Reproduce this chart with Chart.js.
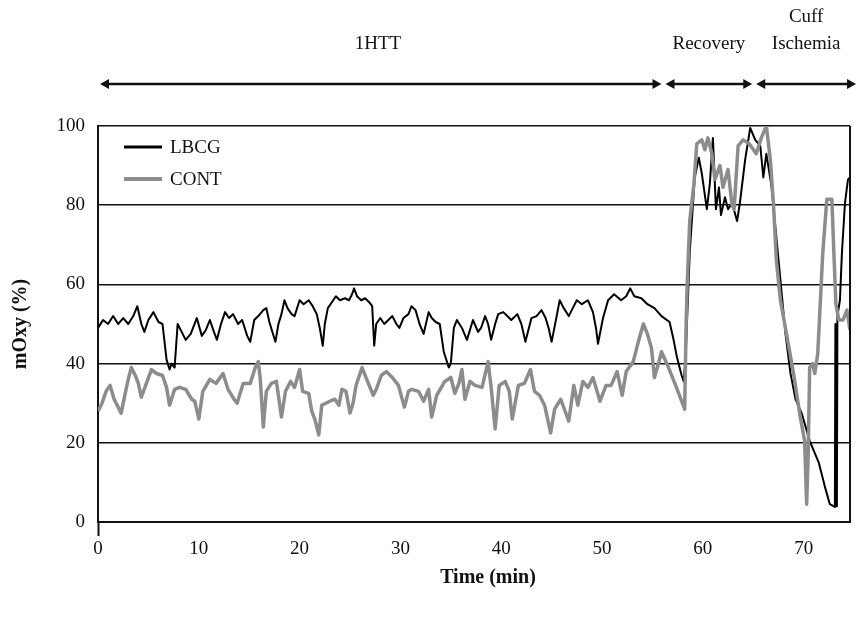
<!DOCTYPE html>
<html>
<head>
<meta charset="utf-8">
<title>mOxy</title>
<script src="https://cdn.jsdelivr.net/npm/chart.js@4.4.1/dist/chart.umd.min.js"></script>
<style>
  html, body { margin: 0; padding: 0; background: #fff; }
  canvas { display: block; }
</style>
</head>
<body>
<canvas id="oxyChart" width="857" height="619"></canvas>
<script>
// Time (min) / mOxy (%)
const lbcgTime = [
  0, 0.5, 1.0, 1.5, 2.0, 2.5, 3.0, 3.5, 3.9, 4.3, 4.6, 5.0, 5.5, 6.0, 6.4, 6.8, 7.1, 7.3, 7.6, 7.9,
  8.3, 8.7, 9.2, 9.8, 10.3, 10.7, 11.1, 11.5, 11.8, 12.2, 12.6, 13.0, 13.4, 13.9, 14.3, 14.8, 15.1, 15.5, 15.9, 16.4,
  16.7, 17.0, 17.3, 17.6, 17.9, 18.2, 18.5, 18.8, 19.2, 19.5, 20.0, 20.4, 20.9, 21.3, 21.7, 22.0, 22.3, 22.5, 22.8, 23.2,
  23.6, 24.0, 24.5, 24.9, 25.2, 25.4, 25.7, 26.1, 26.5, 26.9, 27.2, 27.4, 27.6, 28.0, 28.4, 28.8, 29.2, 29.6, 29.9, 30.3,
  30.8, 31.1, 31.5, 31.9, 32.3, 32.8, 33.1, 33.5, 33.9, 34.3, 34.8, 35.0, 35.3, 35.6, 36.1, 36.6, 37.2, 37.7, 38.0, 38.4,
  38.7, 39.0, 39.4, 39.7, 40.2, 40.6, 41.0, 41.6, 42.0, 42.4, 43.0, 43.5, 44.0, 44.4, 44.7, 45.0, 45.5, 45.8, 46.2, 46.7,
  47.1, 47.5, 48.0, 48.6, 49.1, 49.4, 49.6, 50.1, 50.6, 51.2, 51.9, 52.4, 52.8, 53.2, 53.9, 54.5, 55.2, 55.9, 56.7, 57.1,
  57.4, 57.9, 58.1, 58.3, 58.7, 59.2, 59.6, 59.9, 60.4, 60.7, 61.0, 61.3, 61.6, 61.8, 62.2, 62.5, 62.9, 63.4, 63.7, 64.2,
  64.7, 65.2, 65.7, 66.0, 66.3, 66.8, 67.2, 67.7, 68.2, 68.7, 69.2, 69.8, 70.6, 71.5, 72.1, 72.6, 73.1, 73.15, 73.2, 73.25,
  73.3, 73.35, 73.6, 73.8, 74.1, 74.4, 74.6
];
const lbcgValues = [
  49, 51, 50, 52, 50, 51.5, 50, 52, 54.5, 50, 48, 51, 53, 50.5, 50, 41, 38.5, 40, 39, 50,
  48, 46, 47.5, 51.5, 47, 48.5, 51, 48, 46, 50, 53, 51.5, 52.5, 50, 51, 47, 45.5, 51, 52, 53.5,
  54, 50.5, 48, 45.5, 50, 52.5, 56, 54, 52.5, 52, 56, 55, 56, 54.5, 52.5, 49, 44.5, 50, 54, 55.5,
  57, 56, 56.5, 56, 57.5, 59, 57, 56, 56.5, 55.5, 54.5, 44.5, 50, 51.5, 50, 51, 52, 50, 49, 51.5,
  52.5, 54.5, 53.5, 50, 47.5, 53, 51.5, 50.5, 50, 43, 39, 40, 49, 51, 49, 46, 51, 48, 49, 52,
  50, 46, 50, 52.5, 53, 52, 51, 52.5, 50, 45.5, 51.5, 52, 53.5, 51.5, 49, 45.5, 52, 56, 54, 52,
  54, 56, 55, 56, 53, 49, 45, 51.5, 56, 57.5, 56, 57, 59, 57, 56.5, 55, 54, 52, 50.5, 46,
  42, 37, 35.5, 42, 68, 87, 92, 88, 79, 85.5, 97, 79, 84.5, 77.5, 82, 79, 80.5, 76, 81, 91.5,
  99.5, 96.5, 95, 87, 93, 85, 74.5, 61, 47.5, 37.5, 31, 27.5, 20.5, 15, 9, 4.5, 3.8, 50, 4, 50,
  4, 52, 56, 68, 80.5, 86.5, 87
];
const contTime = [
  0, 0.4, 0.8, 1.2, 1.6, 2.0, 2.3, 2.7, 3.0, 3.3, 3.7, 4.0, 4.3, 4.8, 5.3, 5.8, 6.4, 6.8, 7.1, 7.6,
  8.1, 8.7, 9.3, 9.6, 10.0, 10.4, 11.1, 11.7, 12.4, 12.9, 13.5, 13.8, 14.4, 15.1, 15.6, 15.9, 16.1, 16.4, 16.7, 17.2,
  17.7, 18.2, 18.6, 19.1, 19.5, 20.0, 20.3, 20.9, 21.2, 21.5, 21.9, 22.2, 22.6, 23.0, 23.5, 23.9, 24.2, 24.6, 25.0, 25.3,
  25.6, 26.2, 26.5, 26.9, 27.3, 27.6, 28.1, 28.6, 29.2, 29.8, 30.4, 30.8, 31.1, 31.8, 32.3, 32.8, 33.1, 33.6, 34.4, 35.0,
  35.4, 35.8, 36.1, 36.4, 36.9, 37.4, 38.1, 38.7, 39.0, 39.4, 39.8, 40.4, 40.8, 41.1, 41.7, 42.3, 42.9, 43.3, 43.8, 44.3,
  44.9, 45.3, 45.9, 46.7, 47.2, 47.6, 48.1, 48.6, 49.1, 49.8, 50.4, 50.9, 51.5, 52.0, 52.4, 53.1, 53.6, 54.1, 54.5, 54.9,
  55.2, 55.6, 55.9, 56.6, 57.3, 58.2, 58.35, 58.45, 58.7, 59.1, 59.4, 59.9, 60.2, 60.5, 60.9, 61.2, 61.7, 62.0, 62.5, 62.9,
  63.1, 63.5, 64.0, 64.6, 65.3, 65.8, 66.3, 66.7, 67.0, 67.3, 67.7, 68.3, 69.0, 69.6, 70.1, 70.3, 70.45, 70.6, 70.9, 71.1,
  71.4, 71.9, 72.3, 72.8, 73.0, 73.2, 73.5, 73.9, 74.3, 74.6
];
const contValues = [
  28, 30, 33, 34.5, 31, 29, 27.5, 32.5, 36, 39, 37, 35, 31.5, 35, 38.5, 37.5, 37, 34, 29.5, 33.5,
  34, 33.5, 31, 30.5, 26, 33, 36, 35, 37.5, 33.5, 31, 30, 35, 35, 39, 40.5, 36, 24, 33, 35,
  35.5, 26.5, 33, 35.5, 34, 38.5, 33, 32.5, 28, 26, 22, 29.5, 30, 30.5, 31, 29.5, 33.5, 33, 27.5, 30,
  34.5, 39, 37, 34.5, 32, 33.5, 37, 38, 36.5, 34.5, 29, 33, 33.5, 33, 30.5, 33.5, 26.5, 32, 35.5, 36.5,
  32.5, 35, 38.5, 31, 35.5, 34.5, 34, 40.5, 34, 23.5, 34.5, 35.5, 33, 26, 34.5, 35, 38.5, 33, 32, 29.5,
  22.5, 28.5, 31, 25.5, 34.5, 29.5, 35.5, 34, 36.5, 30.5, 34.5, 34.5, 38, 32, 38, 40.5, 45.5, 50, 47.5, 44,
  36.5, 40, 43, 39, 34.5, 28.5, 51, 60, 76, 85, 95.5, 96.5, 94, 97, 93, 86.5, 90, 84.5, 89, 80,
  79, 95, 96.5, 95.5, 93, 97, 100, 91.5, 80.5, 66, 56, 47.5, 37.5, 27.5, 20.5, 4.5, 17, 39, 40, 37.5,
  42.5, 68, 81.5, 81.5, 68, 55, 51, 51, 53.5, 48.5
];

// study phases shown above the plot (minutes)
const phaseLabels = [['1HTT'], ['Recovery'], ['Cuff', 'Ischemia']];
const phaseStart = [0.2, 56.3, 65.3];
const phaseEnd = [55.9, 64.9, 75.2];

const yTicks = [0, 20, 40, 60, 80, 100];
const xTicks = [0, 10, 20, 30, 40, 50, 60, 70];

const FONT = '"Liberation Serif", "Times New Roman", serif';

function toPoints(times, values) {
  return times.map((t, i) => ({ x: t, y: values[i] }));
}

const extras = {
  id: 'extras',
  afterDraw(chart) {
    const ctx = chart.ctx;
    const area = chart.chartArea;
    const xs = chart.scales.x;
    ctx.save();

    // right edge of the plot box
    ctx.strokeStyle = '#111';
    ctx.lineWidth = 2;
    ctx.beginPath();
    ctx.moveTo(area.right, area.top);
    ctx.lineTo(area.right, area.bottom);
    ctx.stroke();

    // phase arrows and labels
    const arrowY = 84;
    ctx.fillStyle = '#111';
    ctx.font = '19px ' + FONT;
    ctx.textAlign = 'center';
    ctx.textBaseline = 'middle';
    phaseLabels.forEach((lines, i) => {
      const x0 = xs.getPixelForValue(phaseStart[i]);
      const x1 = xs.getPixelForValue(phaseEnd[i]);
      ctx.lineWidth = 2.5;
      ctx.beginPath();
      ctx.moveTo(x0 + 6, arrowY);
      ctx.lineTo(x1 - 6, arrowY);
      ctx.stroke();
      ctx.beginPath();
      ctx.moveTo(x0, arrowY);
      ctx.lineTo(x0 + 9, arrowY - 5);
      ctx.lineTo(x0 + 9, arrowY + 5);
      ctx.closePath();
      ctx.fill();
      ctx.beginPath();
      ctx.moveTo(x1, arrowY);
      ctx.lineTo(x1 - 9, arrowY - 5);
      ctx.lineTo(x1 - 9, arrowY + 5);
      ctx.closePath();
      ctx.fill();
      const cx = i === 0 ? 378 : (x0 + x1) / 2;
      lines.forEach((txt, j) => {
        ctx.fillText(txt, cx, 44 - (lines.length - 1 - j) * 27);
      });
    });

    // legend inside the plot
    const legend = [['LBCG', '#000', 3], ['CONT', '#8c8c8c', 4]];
    ctx.textAlign = 'left';
    legend.forEach((item, i) => {
      const y = 147 + i * 32;
      ctx.strokeStyle = item[1];
      ctx.lineWidth = item[2];
      ctx.beginPath();
      ctx.moveTo(124, y);
      ctx.lineTo(162, y);
      ctx.stroke();
      ctx.fillStyle = '#111';
      ctx.fillText(item[0], 170, y + 1);
    });

    // axis titles
    ctx.font = 'bold 20px ' + FONT;
    ctx.textAlign = 'center';
    ctx.fillText('Time (min)', 488, 578);
    ctx.translate(21, (area.top + area.bottom) / 2);
    ctx.rotate(-Math.PI / 2);
    ctx.fillText('mOxy (%)', 0, 0);

    ctx.restore();
  }
};

new Chart(document.getElementById('oxyChart').getContext('2d'), {
  type: 'line',
  data: {
    datasets: [
      {
        label: 'LBCG',
        data: toPoints(lbcgTime, lbcgValues),
        borderColor: '#000',
        borderWidth: 2,
        borderJoinStyle: 'round',
        pointRadius: 0,
        tension: 0,
        order: 1
      },
      {
        label: 'CONT',
        data: toPoints(contTime, contValues),
        borderColor: '#8c8c8c',
        borderWidth: 3.5,
        borderJoinStyle: 'round',
        pointRadius: 0,
        tension: 0,
        order: 0
      }
    ]
  },
  options: {
    responsive: false,
    animation: false,
    devicePixelRatio: 1,
    layout: { padding: { top: 126, right: 7, left: 0, bottom: 0 } },
    plugins: {
      legend: { display: false },
      tooltip: { enabled: false }
    },
    scales: {
      x: {
        type: 'linear',
        min: 0,
        max: 74.6,
        afterFit(scale) { scale.height = 97; },
        afterBuildTicks(scale) { scale.ticks = xTicks.map(v => ({ value: v })); },
        border: { color: '#111', width: 2 },
        grid: {
          drawOnChartArea: false,
          drawTicks: true,
          tickLength: 14,
          tickWidth: 2,
          tickColor: ctx => (ctx.tick && ctx.tick.value === 0 ? '#111' : 'rgba(0,0,0,0)')
        },
        ticks: {
          autoSkip: false,
          maxRotation: 0,
          padding: 2,
          color: '#111',
          font: { family: FONT, size: 19 }
        }
      },
      y: {
        min: 0,
        max: 100,
        afterFit(scale) { scale.width = 98; },
        afterBuildTicks(scale) { scale.ticks = yTicks.map(v => ({ value: v })); },
        border: { color: '#111', width: 2 },
        grid: {
          drawTicks: false,
          color: '#111',
          lineWidth: 1.6
        },
        ticks: {
          padding: 13,
          color: '#111',
          font: { family: FONT, size: 19 }
        }
      }
    }
  },
  plugins: [extras]
});
</script>
</body>
</html>
